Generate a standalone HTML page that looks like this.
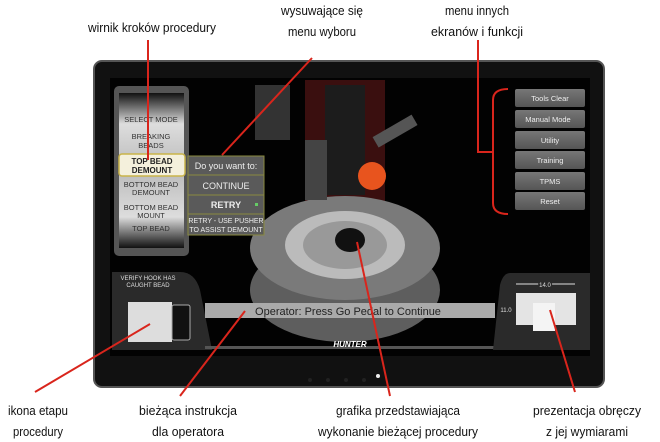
<!DOCTYPE html>
<html><head><meta charset="utf-8"><style>
body{margin:0;background:#fff;width:660px;height:442px;overflow:hidden}
svg{display:block}
text{font-family:"Liberation Sans Narrow","Liberation Sans",sans-serif}
</style></head><body>
<svg width="660" height="442" viewBox="0 0 660 442">
<defs>
<linearGradient id="wheel" x1="0" x2="0" y1="0" y2="1">
<stop offset="0" stop-color="#111"/><stop offset="0.2" stop-color="#ddd"/><stop offset="0.5" stop-color="#bbb"/><stop offset="0.8" stop-color="#ddd"/><stop offset="1" stop-color="#111"/></linearGradient>
<linearGradient id="btn" x1="0" x2="0" y1="0" y2="1"><stop offset="0" stop-color="#777"/><stop offset="1" stop-color="#555"/></linearGradient>
</defs>
<!-- monitor -->
<rect x="94" y="61" width="510" height="326" rx="8" fill="#111" stroke="#555" stroke-width="2"/>
<rect x="110" y="78" width="480" height="278" fill="#020202"/>
<!-- background columns -->
<rect x="305" y="80" width="80" height="130" fill="#3a0f0f"/>
<rect x="325" y="85" width="40" height="110" fill="#1c1c1c"/>
<!-- tire -->
<ellipse cx="345" cy="290" rx="95" ry="52" fill="#5e5e5e"/>
<ellipse cx="345" cy="248" rx="95" ry="52" fill="#7a7a7a"/>
<ellipse cx="345" cy="245" rx="60" ry="34" fill="#bbb"/>
<ellipse cx="345" cy="245" rx="42" ry="24" fill="#999"/>
<ellipse cx="350" cy="240" rx="15" ry="12" fill="#111"/>
<!-- arms -->
<rect x="255" y="85" width="35" height="55" fill="#333"/>
<rect x="305" y="140" width="22" height="60" fill="#444"/>
<rect x="372" y="125" width="45" height="12" fill="#555" transform="rotate(-30 395 130)"/>
<circle cx="372" cy="176" r="14" fill="#e8541e"/>
<!-- left wheel menu -->
<rect x="114" y="86" width="75" height="170" rx="5" fill="#555"/>
<rect x="119" y="93" width="65" height="155" fill="url(#wheel)"/>
<g font-size="7.5" fill="#333" text-anchor="middle">
<text x="151" y="122">SELECT MODE</text>
<text x="151" y="139">BREAKING</text><text x="151" y="148">BEADS</text>
<text x="151" y="187">BOTTOM BEAD</text><text x="151" y="195">DEMOUNT</text>
<text x="151" y="210">BOTTOM BEAD</text><text x="151" y="218">MOUNT</text>
<text x="151" y="231">TOP BEAD</text>
</g>
<rect x="119" y="154" width="66" height="22" rx="3" fill="#f4f0dc" stroke="#c9b44a" stroke-width="1.5"/>
<g font-size="8" font-weight="bold" fill="#222" text-anchor="middle">
<text x="152" y="164">TOP BEAD</text><text x="152" y="173">DEMOUNT</text></g>
<!-- popup -->
<rect x="188" y="156" width="76" height="79" fill="#5a5a5a" stroke="#8a8a40" stroke-width="1"/>
<line x1="188" y1="175" x2="264" y2="175" stroke="#8a8a40"/>
<line x1="188" y1="195" x2="264" y2="195" stroke="#8a8a40"/>
<line x1="188" y1="214" x2="264" y2="214" stroke="#8a8a40"/>
<g fill="#eee" text-anchor="middle">
<text x="226" y="169" font-size="9">Do you want to:</text>
<text x="226" y="189" font-size="9">CONTINUE</text>
<text x="226" y="208" font-size="9" font-weight="bold">RETRY</text>
<text x="226" y="223" font-size="7">RETRY - USE PUSHER</text>
<text x="226" y="232" font-size="7">TO ASSIST DEMOUNT</text></g>
<rect x="255" y="203" width="3" height="3" fill="#6c6"/>
<!-- right menu buttons -->
<g font-size="7.5" fill="#eee" text-anchor="middle">
<rect x="515" y="89" width="70" height="18" rx="2" fill="url(#btn)"/><text x="550" y="101">Tools Clear</text>
<rect x="515" y="110" width="70" height="18" rx="2" fill="url(#btn)"/><text x="548" y="122">Manual Mode</text>
<rect x="515" y="131" width="70" height="18" rx="2" fill="url(#btn)"/><text x="550" y="143">Utility</text>
<rect x="515" y="151" width="70" height="18" rx="2" fill="url(#btn)"/><text x="550" y="163">Training</text>
<rect x="515" y="172" width="70" height="18" rx="2" fill="url(#btn)"/><text x="550" y="184">TPMS</text>
<rect x="515" y="192" width="70" height="18" rx="2" fill="url(#btn)"/><text x="550" y="204">Reset</text>
</g>
<!-- bottom left panel -->
<path d="M112 272 L180 272 Q195 272 200 290 L212 350 L112 350 Z" fill="#2a2a2a"/>
<text x="148" y="280" font-size="6" fill="#ddd" text-anchor="middle">VERIFY HOOK HAS</text>
<text x="148" y="287" font-size="6" fill="#ddd" text-anchor="middle">CAUGHT BEAD</text>
<rect x="128" y="302" width="44" height="40" fill="#ddd"/>
<rect x="172" y="305" width="18" height="35" rx="2" fill="#111" stroke="#aaa"/>
<!-- instruction bar -->
<rect x="205" y="303" width="290" height="15" fill="#aaa"/>
<text x="348" y="315" font-size="11" fill="#222" text-anchor="middle">Operator: Press Go Pedal to Continue</text>
<rect x="205" y="346" width="290" height="3" fill="#555"/>
<text x="350" y="347" font-size="8" font-weight="bold" font-style="italic" fill="#fff" text-anchor="middle">HUNTER</text>
<!-- right rim panel -->
<path d="M510 273 L590 273 L590 350 L493 350 L500 285 Q503 273 510 273 Z" fill="#2a2a2a"/>
<line x1="516" y1="284" x2="575" y2="284" stroke="#ddd"/>
<text x="545" y="287" font-size="6" fill="#ddd" text-anchor="middle" style="paint-order:stroke" stroke="#2a2a2a" stroke-width="3">14.0</text>
<rect x="516" y="293" width="60" height="32" fill="#e4e4e4"/>
<rect x="533" y="303" width="22" height="28" fill="#f4f4f4"/>
<text x="506" y="312" font-size="6" fill="#ddd" text-anchor="middle">11.0</text>
<!-- bottom buttons -->
<g fill="#222"><circle cx="310" cy="380" r="2"/><circle cx="328" cy="380" r="2"/><circle cx="346" cy="380" r="2"/><circle cx="364" cy="380" r="2"/></g>
<circle cx="378" cy="376" r="2" fill="#eee"/>
<!-- red callouts -->
<g stroke="#d9251c" stroke-width="2" fill="none">
<line x1="148" y1="40" x2="148" y2="160"/>
<line x1="312" y1="58" x2="222" y2="155"/>
<polyline points="478,40 478,152 493,152"/>
<path d="M508 89 Q493 89 493 100 L493 203 Q493 214 508 214"/>
<line x1="35" y1="392" x2="150" y2="324"/>
<line x1="180" y1="396" x2="245" y2="311"/>
<line x1="390" y1="396" x2="357" y2="242"/>
<line x1="575" y1="392" x2="550" y2="310"/>
</g>
<!-- labels -->
<g font-size="13" fill="#111" text-anchor="middle">
<text x="152" y="32" textLength="128" lengthAdjust="spacingAndGlyphs">wirnik kroków procedury</text>
<text x="322" y="15" textLength="82" lengthAdjust="spacingAndGlyphs">wysuwające się</text><text x="322" y="36" textLength="68" lengthAdjust="spacingAndGlyphs">menu wyboru</text>
<text x="477" y="15" textLength="64" lengthAdjust="spacingAndGlyphs">menu innych</text><text x="477" y="36" textLength="92" lengthAdjust="spacingAndGlyphs">ekranów i funkcji</text>
<text x="38" y="415" textLength="60" lengthAdjust="spacingAndGlyphs">ikona etapu</text><text x="38" y="436" textLength="50" lengthAdjust="spacingAndGlyphs">procedury</text>
<text x="188" y="415" textLength="98" lengthAdjust="spacingAndGlyphs">bieżąca instrukcja</text><text x="188" y="436" textLength="72" lengthAdjust="spacingAndGlyphs">dla operatora</text>
<text x="398" y="415" textLength="124" lengthAdjust="spacingAndGlyphs">grafika przedstawiająca</text><text x="398" y="436" textLength="160" lengthAdjust="spacingAndGlyphs">wykonanie bieżącej procedury</text>
<text x="587" y="415" textLength="108" lengthAdjust="spacingAndGlyphs">prezentacja obręczy</text><text x="587" y="436" textLength="82" lengthAdjust="spacingAndGlyphs">z jej wymiarami</text>
</g>
</svg>
</body></html>
